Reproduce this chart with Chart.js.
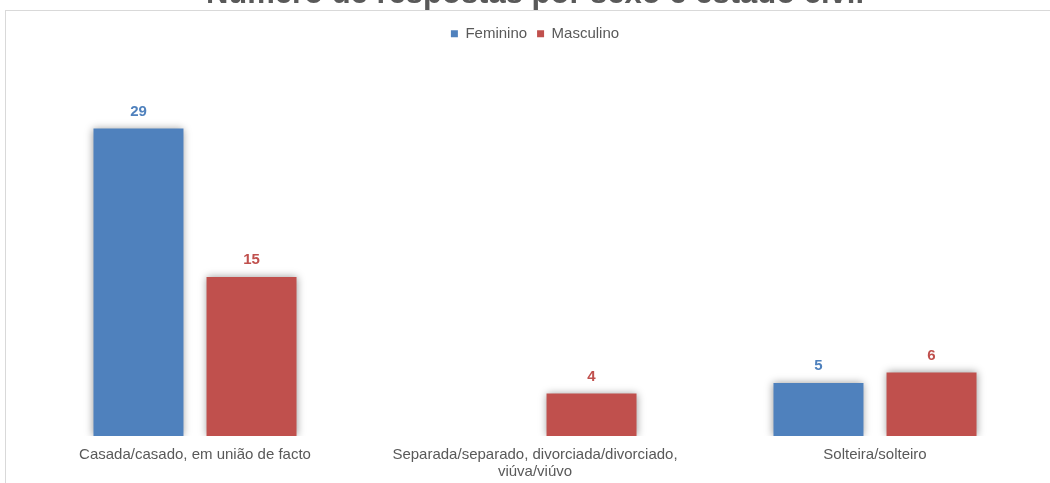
<!DOCTYPE html>
<html>
<head>
<meta charset="utf-8">
<script src="https://cdn.jsdelivr.net/npm/chart.js@4"></script>
<style>
  html, body { margin: 0; padding: 0; background: #fff; overflow: hidden; }
  body { width: 1050px; height: 483px; position: relative; }
  #frame {
    position: absolute; left: 5px; top: 10px; width: 1100px; height: 600px;
    border-left: 1px solid #d9d9d9; border-top: 1px solid #d9d9d9;
  }
  #wrap { position: absolute; left: 0; top: -32px; width: 1050px; height: 534px; }
</style>
</head>
<body>
<div id="frame"></div>
<div id="wrap"><canvas id="estadoCivil"></canvas></div>
<script>
const categories = [
  "Casada/casado, em união de facto",
  ["Separada/separado, divorciada/divorciado,", "viúva/viúvo"],
  "Solteira/solteiro"
];
const feminino = [29, null, 5];
const masculino = [15, 4, 6];

const BLUE = "#4f81bd";
const RED = "#c0504d";
const GREY = "#595959";
const FONT = "'Liberation Sans', Arial, sans-serif";

// soft shadow behind every bar
const barShadow = {
  id: "barShadow",
  beforeDatasetsDraw(chart) {
    const ctx = chart.ctx;
    ctx.save();
    ctx.shadowColor = "rgba(0,0,0,0.4)";
    ctx.shadowBlur = 8;
    ctx.shadowOffsetX = 0;
    ctx.shadowOffsetY = 0;
  },
  afterDatasetsDraw(chart) {
    chart.ctx.restore();
  }
};

// value above each bar, same colour as the series
const valueLabels = {
  id: "valueLabels",
  afterDatasetsDraw(chart) {
    const ctx = chart.ctx;
    ctx.save();
    ctx.font = "bold 15px " + FONT;
    ctx.textAlign = "center";
    ctx.textBaseline = "middle";
    chart.data.datasets.forEach(function (ds, i) {
      chart.getDatasetMeta(i).data.forEach(function (bar, j) {
        const v = ds.data[j];
        if (v === null || v === undefined) return;
        ctx.fillStyle = ds.backgroundColor;
        ctx.fillText(String(v), bar.x, bar.y - 17);
      });
    });
    ctx.restore();
  }
};

new Chart(document.getElementById("estadoCivil"), {
  type: "bar",
  data: {
    labels: categories,
    datasets: [
      { label: "Feminino", data: feminino, backgroundColor: BLUE },
      { label: "Masculino", data: masculino, backgroundColor: RED }
    ]
  },
  options: {
    responsive: true,
    maintainAspectRatio: false,
    animation: false,
    layout: { padding: { left: 25, right: 5, top: 6, bottom: 12 } },
    datasets: {
      bar: { barPercentage: 0.796, categoryPercentage: 0.665 }
    },
    plugins: {
      title: {
        display: true,
        text: "Número de respostas por sexo e estado civil",
        color: GREY,
        font: { family: FONT, size: 31, weight: "bold" },
        padding: { top: 2, bottom: 3 }
      },
      legend: {
        labels: {
          color: GREY,
          boxWidth: 7,
          boxHeight: 7,
          padding: 10,
          font: { family: FONT, size: 15 }
        }
      },
      tooltip: { enabled: false }
    },
    scales: {
      x: {
        grid: { display: false, drawTicks: false },
        border: { display: false },
        ticks: {
          color: GREY,
          padding: 10,
          maxRotation: 0,
          font: { family: FONT, size: 15, lineHeight: "17px" }
        }
      },
      y: {
        display: false,
        min: 0,
        max: 36.3
      }
    }
  },
  plugins: [barShadow, valueLabels]
});
</script>
</body>
</html>
